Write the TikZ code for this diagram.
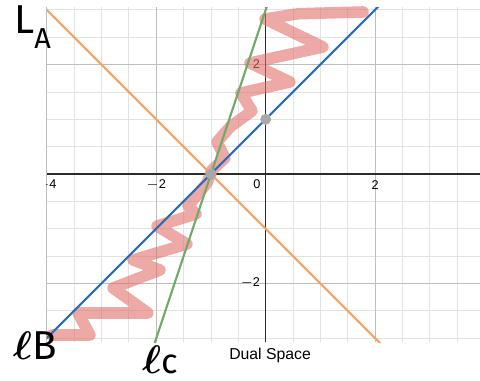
\documentclass[tikz,border=0pt]{standalone}
\usepackage{amsmath}
\usepackage{fontspec}
\setmainfont{Liberation Sans}
\newfontfamily\handfont{Fira Sans}
\usetikzlibrary{calc}

\begin{document}
\begin{tikzpicture}[
    every node/.style={font=\small},
    ticklabel/.style={font=\fontsize{6.6}{7}\selectfont, text=black, inner sep=0pt},
    handlabel/.style={font=\handfont\fontsize{21}{21}\selectfont, inner sep=0pt},
    minorgrid/.style={draw=gridlight, line width=0.45pt},
    majorgrid/.style={draw=gridmid, line width=0.6pt},
    graphline/.style={line width=1.1pt},
]

\definecolor{gridlight}{HTML}{E2E2E2}   % the plane
\definecolor{gridmid}{HTML}{BDBDBD}
\definecolor{axiscolor}{HTML}{2B2B2B}
\definecolor{la}{HTML}{F2A36A}          % the three lines
\definecolor{lb}{HTML}{2D6DB5}
\definecolor{lc}{HTML}{6FAA68}
\definecolor{scribble}{HTML}{E0706A}
\definecolor{dotcolor}{HTML}{A8A8A8}

\def\xl{-4}      % left edge of the grid
\def\xr{3.918}   % right edge
\def\yb{-3.08}   % bottom edge
\def\yt{3.05}    % top edge

\useasboundingbox (-4.857,-3.784) rectangle (3.918,3.181);

% ================================================================
%   grid  x in [-4, 3.9], y in [-3.1, 3.05], 1 unit = 1cm
%   LA : y = -x - 1     LB : y = x + 1     LC : y = 3x + 3
% ================================================================

% ---------------------------------------------------------------- the plane
\draw[minorgrid] (\xl,\yb) grid[step=0.5] (\xr,\yt);
\draw[majorgrid] (\xl,\yb) grid[step=2] (\xr,\yt);
\draw[axiscolor, line width=0.8pt] (\xl,0) -- (\xr,0);
\draw[axiscolor, line width=0.8pt] (0,\yb) -- (0,\yt);

\begin{scope}
    \clip (\xl,\yb) rectangle (\xr,\yt);
    \foreach \v/\t in {-4/$-$4, -2/$-$2, 2/2, 4/4} {
        \node[ticklabel] (xt\v) at (\v,-0.2) {\t};
    }
    \node[ticklabel] (xt0) at (-0.16,-0.19) {0};
    \node[ticklabel, anchor=east] (yt2) at (-0.1,2.01) {2};
    \node[ticklabel, anchor=east] (ytm2) at (-0.1,-1.99) {$-$2};
\end{scope}

% ---------------------------------------------------------------- scribble
\draw[scribble, opacity=0.6, line width=6pt, line cap=round, line join=round]
    (1.779,2.962) -- (0.60,2.93) -- (-0.013,2.834) -- (1.047,2.322)
    -- (-0.287,2.029) -- (0.444,1.682) -- (-0.452,1.481) -- (-0.250,1.152)
    -- (-0.653,0.859) -- (-0.890,0.585) -- (-0.744,0.292) -- (-0.982,0.073)
    -- (-1.073,-0.165) -- (-1.420,-0.585) -- (-1.274,-0.731) -- (-1.987,-0.951)
    -- (-1.439,-1.280) -- (-2.426,-1.572) -- (-1.932,-1.755) -- (-2.791,-2.084)
    -- (-2.152,-2.541) -- (-3.431,-2.541) -- (-3.212,-2.943) -- (-3.906,-2.943);

% ---------------------------------------------------------------- lines
\begin{scope}
    \clip (\xl,\yb) rectangle (\xr,\yt);
    \draw[graphline, la] (-4.2,3.2) -- (2.2,-3.2);
    \draw[graphline, lb] (-4.2,-3.2) -- (2.2,3.2);
    \draw[graphline, lc] (-2.1,-3.3) -- (0.1,3.3);
\end{scope}

\coordinate (meet) at (-1,0);
\coordinate (yhit) at (0,1);
\fill[dotcolor] (meet) circle (0.1);
\fill[dotcolor] (yhit) circle (0.1);

% ---------------------------------------------------------------- labels
\node[handlabel] (lalabel) at (-4.26,2.68)
    {L\raisebox{-0.38em}{\fontsize{15}{15}\selectfont A}};
\node[handlabel] (lblabel) at (-4.22,-3.13) {$\boldsymbol{\ell}$B};
\node[handlabel] (lclabel) at (-1.93,-3.39) {$\boldsymbol{\ell}$\fontsize{18}{18}\selectfont c};

\node[font=\fontsize{8.2}{9}\selectfont] (title) at (0.08,-3.31) {Dual Space};

\end{tikzpicture}
\end{document}
